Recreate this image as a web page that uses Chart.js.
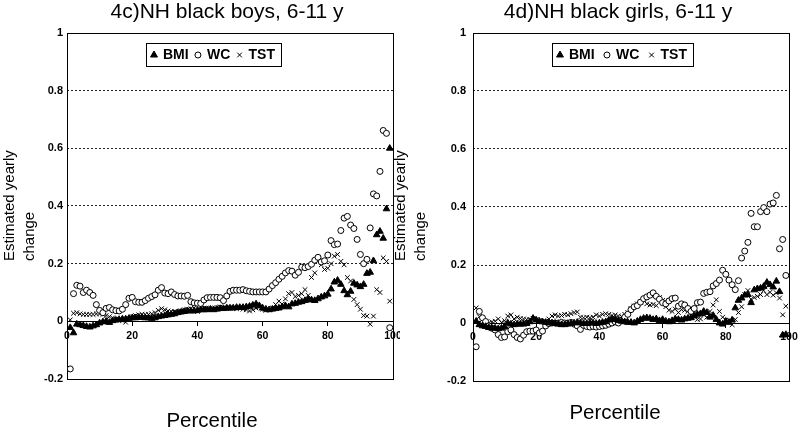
<!DOCTYPE html>
<html>
<head>
<meta charset="utf-8">
<script src="https://cdn.jsdelivr.net/npm/chart.js@4/dist/chart.umd.min.js"></script>
<style>
  html, body { margin: 0; padding: 0; background: #fff; }
  #wrap { position: relative; width: 800px; height: 431px; overflow: hidden; background: #fff; }
  #boys { position: absolute; left: 0; top: 0; }
  #girls { position: absolute; left: 391px; top: 0; }
</style>
</head>
<body>
<div id="wrap">
  <canvas id="boys" width="400" height="431"></canvas>
  <canvas id="girls" width="409" height="431"></canvas>
</div>
<script>
const FONT = '"Liberation Sans", Arial, sans-serif'

// percentiles (x values)
const pct = [
   1,  2,  3,  4,  5,  6,  7,  8,  9, 10,
  11, 12, 13, 14, 15, 16, 17, 18, 19, 20,
  21, 22, 23, 24, 25, 26, 27, 28, 29, 30,
  31, 32, 33, 34, 35, 36, 37, 38, 39, 40,
  41, 42, 43, 44, 45, 46, 47, 48, 49, 50,
  51, 52, 53, 54, 55, 56, 57, 58, 59, 60,
  61, 62, 63, 64, 65, 66, 67, 68, 69, 70,
  71, 72, 73, 74, 75, 76, 77, 78, 79, 80,
  81, 82, 83, 84, 85, 86, 87, 88, 89, 90,
  91, 92, 93, 94, 95, 96, 97, 98, 99
]

const xTicks = [0, 20, 40, 60, 80, 100]
const yTicks = [-0.2, 0, 0.2, 0.4, 0.6, 0.8, 1]
const yTickLabels = ['-0.2', '0', '0.2', '0.4', '0.6', '0.8', '1']

// 4c) boys
const boysBMI = [
  -0.022, -0.040, -0.010, -0.012, -0.015, -0.018, -0.020, -0.016, -0.012, -0.006,
  -0.002, 0.000, -0.004, 0.002, 0.004, 0.006, 0.008, 0.008, 0.010, 0.012,
  0.012, 0.014, 0.014, 0.012, 0.012, 0.010, 0.012, 0.016, 0.018, 0.020,
  0.022, 0.024, 0.026, 0.030, 0.032, 0.034, 0.036, 0.036, 0.036, 0.038,
  0.040, 0.040, 0.040, 0.042, 0.040, 0.042, 0.044, 0.044, 0.046, 0.046,
  0.046, 0.048, 0.048, 0.048, 0.050, 0.052, 0.056, 0.060, 0.054, 0.046,
  0.042, 0.040, 0.042, 0.044, 0.046, 0.050, 0.054, 0.050, 0.060, 0.062,
  0.066, 0.068, 0.072, 0.078, 0.074, 0.072, 0.078, 0.084, 0.088, 0.094,
  0.112, 0.136, 0.142, 0.128, 0.106, 0.092, 0.104, 0.132, 0.126, 0.120,
  0.128, 0.166, 0.170, 0.210, 0.300, 0.312, 0.288, 0.390, 0.600
]
const boysWC = [
  -0.165, 0.096, 0.125, 0.122, 0.100, 0.108, 0.100, 0.090, 0.058, 0.038,
  0.030, 0.045, 0.048, 0.040, 0.037, 0.036, 0.042, 0.058, 0.080, 0.083,
  0.068, 0.066, 0.066, 0.072, 0.080, 0.086, 0.092, 0.108, 0.117, 0.098,
  0.096, 0.102, 0.093, 0.088, 0.088, 0.087, 0.090, 0.068, 0.064, 0.063,
  0.062, 0.074, 0.082, 0.083, 0.083, 0.083, 0.082, 0.072, 0.088, 0.104,
  0.108, 0.108, 0.108, 0.110, 0.106, 0.104, 0.102, 0.102, 0.102, 0.102,
  0.102, 0.112, 0.124, 0.134, 0.146, 0.156, 0.168, 0.176, 0.174, 0.160,
  0.170, 0.188, 0.186, 0.190, 0.198, 0.212, 0.222, 0.206, 0.210, 0.230,
  0.280, 0.266, 0.268, 0.315, 0.358, 0.364, 0.334, 0.322, 0.284, 0.232,
  0.200, 0.215, 0.324, 0.442, 0.435, 0.520, 0.662, 0.652, -0.022
]
const boysTST = [
  0.005, 0.028, 0.030, 0.026, 0.024, 0.024, 0.024, 0.024, 0.026, 0.026,
  0.024, 0.020, 0.016, 0.012, 0.008, 0.005, 0.002, -0.003, 0.010, 0.016,
  0.020, 0.022, 0.024, 0.024, 0.024, 0.026, 0.030, 0.038, 0.044, 0.040,
  0.036, 0.034, 0.034, 0.032, 0.036, 0.040, 0.042, 0.044, 0.046, 0.034,
  0.040, 0.046, 0.042, 0.046, 0.042, 0.048, 0.050, 0.046, 0.044, 0.048,
  0.046, 0.044, 0.048, 0.042, 0.040, 0.036, 0.040, 0.046, 0.050, 0.042,
  0.038, 0.040, 0.046, 0.058, 0.070, 0.060, 0.078, 0.096, 0.100, 0.086,
  0.090, 0.096, 0.110, 0.090, 0.152, 0.168, 0.216, 0.196, 0.180, 0.184,
  0.200, 0.226, 0.232, 0.208, 0.196, 0.152, 0.140, 0.076, 0.058, 0.042,
  0.020, 0.018, -0.010, 0.018, 0.110, 0.100, 0.220, 0.208, 0.070
]

// 4d) girls
const girlsBMI = [
  0.006, -0.006, -0.010, -0.012, -0.016, -0.018, -0.018, -0.020, -0.018, -0.012,
  0.000, -0.004, -0.006, -0.004, -0.004, -0.004, -0.002, 0.004, 0.016, 0.010,
  0.006, 0.004, 0.002, 0.000, 0.000, -0.002, -0.004, -0.006, -0.006, -0.004,
  -0.002, 0.000, 0.002, 0.000, -0.002, -0.002, 0.000, 0.000, -0.002, 0.000,
  0.002, 0.004, 0.010, 0.014, 0.012, 0.008, 0.006, 0.004, 0.002, 0.002,
  0.000, 0.006, 0.012, 0.016, 0.018, 0.016, 0.012, 0.014, 0.008, 0.012,
  0.006, 0.004, 0.008, 0.014, 0.012, 0.010, 0.014, 0.016, 0.018, 0.024,
  0.030, 0.032, 0.040, 0.036, 0.020, 0.026, 0.012, 0.000, -0.004, 0.006,
  0.002, 0.010, 0.052, 0.078, 0.086, 0.096, 0.098, 0.070, 0.114, 0.118,
  0.120, 0.126, 0.140, 0.132, 0.124, 0.144, 0.108, -0.042, -0.040
]
const girlsWC = [
  -0.082, 0.040, 0.018, 0.005, -0.010, -0.018, -0.024, -0.040, -0.050, -0.048,
  -0.030, -0.024, -0.040, -0.050, -0.055, -0.042, -0.030, -0.028, -0.028, -0.024,
  -0.034, -0.028, -0.010, -0.002, 0.000, 0.000, 0.000, 0.002, 0.000, 0.000,
  0.002, -0.004, -0.010, -0.022, -0.008, -0.012, -0.014, -0.012, -0.014, -0.012,
  -0.010, -0.008, -0.004, 0.000, 0.004, 0.000, 0.010, 0.020, 0.030, 0.046,
  0.056, 0.060, 0.072, 0.084, 0.090, 0.096, 0.104, 0.092, 0.082, 0.070,
  0.066, 0.076, 0.084, 0.086, 0.058, 0.066, 0.062, 0.050, 0.040, 0.050,
  0.070, 0.072, 0.102, 0.106, 0.108, 0.128, 0.136, 0.148, 0.182, 0.168,
  0.148, 0.132, 0.115, 0.146, 0.224, 0.248, 0.278, 0.378, 0.332, 0.332,
  0.384, 0.398, 0.384, 0.410, 0.414, 0.440, 0.256, 0.288, 0.164
]
const girlsTST = [
  0.052, 0.022, 0.012, 0.004, 0.000, 0.004, 0.006, 0.014, 0.002, 0.008,
  0.024, 0.028, 0.014, 0.020, 0.016, 0.014, 0.012, 0.012, 0.016, 0.012,
  0.008, 0.004, 0.006, 0.014, 0.024, 0.028, 0.024, 0.026, 0.030, 0.028,
  0.032, 0.036, 0.038, 0.020, 0.018, 0.020, 0.018, 0.020, 0.028, 0.024,
  0.030, 0.032, 0.030, 0.026, 0.028, 0.024, 0.022, 0.030, 0.036, 0.050,
  0.058, 0.066, 0.072, 0.080, 0.066, 0.062, 0.064, 0.060, 0.088, 0.078,
  0.056, 0.044, 0.040, 0.048, 0.036, 0.046, 0.044, 0.040, 0.036, 0.042,
  0.012, 0.014, 0.028, 0.020, 0.040, 0.062, 0.080, 0.040, 0.020, 0.010,
  0.004, -0.006, 0.012, 0.036, 0.056, 0.098, 0.112, 0.082, 0.088, 0.092,
  0.098, 0.112, 0.098, 0.106, 0.096, 0.104, 0.086, 0.028, 0.058
]

const isNear = (a, b) => Math.abs(a - b) < 1e-6

// plot area border (Excel style box)
const frame = {
    id: 'frame',
    beforeDatasetsDraw(chart) {
        const {ctx, chartArea: a} = chart
        ctx.save()
        ctx.strokeStyle = '#000'
        ctx.lineWidth = 1
        ctx.strokeRect(Math.round(a.left) + 0.5, Math.round(a.top) + 0.5,
            Math.round(a.right - a.left), Math.round(a.bottom - a.top))
        ctx.restore()
    }
}

// legend box drawn inside the plot area
const boxLegend = {
    id: 'boxLegend',
    afterDraw(chart, args, o) {
        const {ctx, chartArea} = chart
        const sets = chart.data.datasets
        ctx.save()
        ctx.font = 'bold 14px ' + FONT
        const widths = sets.map(ds => 9 + ctx.measureText(ds.label).width)
        const sum = widths.reduce((a, b) => a + b, 0)
        const gap = (o.w - 14 - sum) / 2
        const left = chartArea.left + o.dx
        const top = chartArea.top + o.dy
        ctx.fillStyle = '#fff'
        ctx.fillRect(left, top, o.w, o.h)
        ctx.strokeStyle = '#000'
        ctx.lineWidth = 1
        ctx.strokeRect(Math.round(left) + 0.5, Math.round(top) + 0.5, o.w, o.h)
        const cy = top + o.h / 2 + 0.5
        let x = left + 8
        sets.forEach((ds, i) => {
            ctx.fillStyle = ds.backgroundColor || '#000'
            ctx.strokeStyle = '#000'
            ctx.lineWidth = 1
            Chart.helpers.drawPoint(ctx, {
                pointStyle: ds.pointStyle,
                radius: ds.legendRadius,
                borderWidth: 1,
                rotation: 0
            }, x, cy)
            ctx.fillStyle = '#000'
            ctx.textAlign = 'left'
            ctx.textBaseline = 'middle'
            ctx.fillText(ds.label, x + 9, cy)
            x += widths[i] + gap
        })
        ctx.restore()
    }
}

// chart title and axis titles
const panelText = {
    id: 'panelText',
    afterDraw(chart, args, o) {
        const ctx = chart.ctx
        ctx.save()
        ctx.fillStyle = '#000'
        ctx.textBaseline = 'middle'
        ctx.textAlign = 'center'
        ctx.font = '21px ' + FONT
        ctx.fillText(o.title, o.titleX, 12)
        ctx.font = '20.5px ' + FONT
        ctx.fillText('Percentile', o.xTitleX, o.xTitleY)
        ctx.font = '15px ' + FONT
        ctx.translate(10, 261)
        ctx.rotate(-Math.PI / 2)
        ctx.textAlign = 'left'
        ctx.fillText('Estimated yearly', 0, 0)
        ctx.fillText('change', 0, 20)
        ctx.restore()
    }
}

const makeChart = (id, title, bmi, wc, tst, cfg) => {

    const ctx = document.querySelector(id).getContext('2d')

    new Chart(ctx, {
        type: 'scatter',
        data: {
            datasets: [{
                label: 'BMI',
                data: pct.map((p, i) => ({x: p, y: bmi[i]})),
                pointStyle: 'triangle',
                pointRadius: 3.8,
                legendRadius: 4,
                backgroundColor: '#000',
                borderColor: '#000',
                borderWidth: 1
            }, {
                label: 'WC',
                data: pct.map((p, i) => ({x: p, y: wc[i]})),
                pointStyle: 'circle',
                pointRadius: 3,
                legendRadius: 3,
                backgroundColor: '#fff',
                borderColor: '#000',
                borderWidth: 1
            }, {
                label: 'TST',
                data: pct.map((p, i) => ({x: p, y: tst[i]})),
                pointStyle: 'crossRot',
                pointRadius: 3.3,
                legendRadius: 3.3,
                backgroundColor: '#000',
                borderColor: '#000',
                borderWidth: 1
            }]
        },
        options: {
            responsive: false,
            animation: false,
            events: [],
            layout: {padding: cfg.padding},
            scales: {
                x: {
                    type: 'linear',
                    min: 0,
                    max: 100,
                    position: {y: 0},
                    afterBuildTicks: s => { s.ticks = xTicks.map(v => ({value: v})) },
                    ticks: {
                        color: '#000',
                        font: {family: FONT, size: 10.5, weight: 'bold'},
                        padding: 4,
                        maxRotation: 0,
                        autoSkip: false
                    },
                    grid: {drawOnChartArea: false, drawTicks: true, tickLength: 4, color: '#000'},
                    border: {display: true, color: '#000', width: 1},
                    afterFit: s => { s.paddingLeft = 0; s.paddingRight = 0 }
                },
                y: {
                    type: 'linear',
                    min: -0.2,
                    max: 1,
                    afterBuildTicks: s => { s.ticks = yTicks.map(v => ({value: v})) },
                    ticks: {
                        color: '#000',
                        font: {family: FONT, size: 11, weight: 'bold'},
                        padding: cfg.yPad,
                        callback: v => yTickLabels[yTicks.findIndex(t => isNear(t, v))]
                    },
                    grid: {
                        drawTicks: false,
                        lineWidth: 1,
                        color: c => [0.2, 0.4, 0.6, 0.8].some(t => isNear(t, c.tick.value)) ? '#222' : 'rgba(0,0,0,0)'
                    },
                    border: {display: false, dash: [2, 2]},
                    afterFit: s => { s.width = cfg.yWidth }
                }
            },
            plugins: {
                legend: {display: false},
                tooltip: {enabled: false},
                boxLegend: {dx: 79, dy: 10, w: cfg.legendW, h: 23},
                panelText: {title: title, titleX: cfg.titleX, xTitleX: cfg.xTitleX, xTitleY: cfg.xTitleY}
            }
        },
        plugins: [frame, boxLegend, panelText]
    })
}

makeChart('#boys', '4c)NH black boys, 6-11 y', boysBMI, boysWC, boysTST, {
    padding: {top: 33, left: 0, right: 7, bottom: 52},
    yWidth: 67,
    yPad: 4,
    legendW: 135,
    titleX: 227,
    xTitleX: 212,
    xTitleY: 421
})

makeChart('#girls', '4d)NH black girls, 6-11 y', girlsBMI, girlsWC, girlsTST, {
    padding: {top: 33, left: 0, right: 11, bottom: 50},
    yWidth: 82,
    yPad: 7,
    legendW: 141,
    titleX: 227,
    xTitleX: 224,
    xTitleY: 413
})
</script>
</body>
</html>
